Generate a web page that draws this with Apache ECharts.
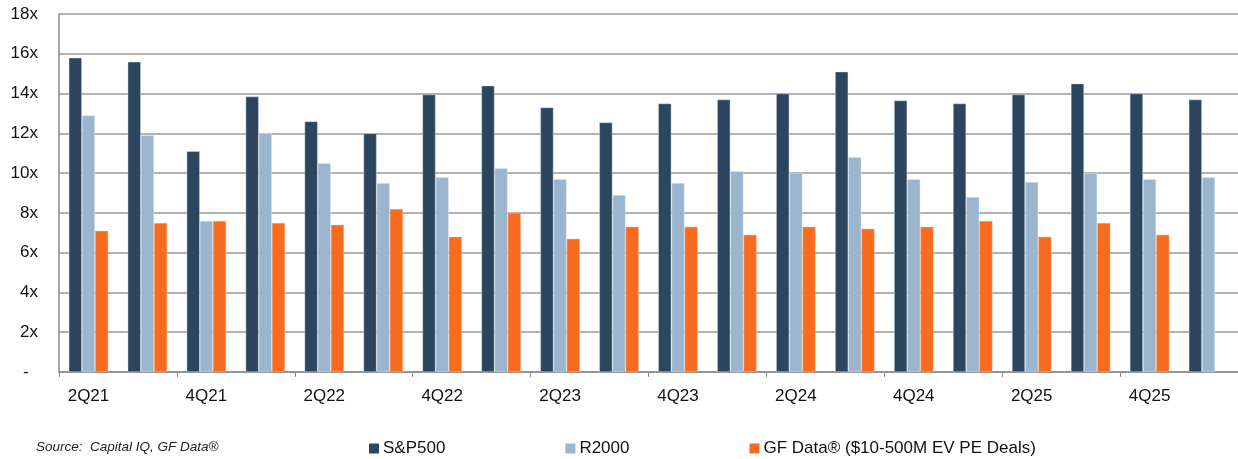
<!DOCTYPE html>
<html>
<head>
<meta charset="utf-8">
<script src="https://cdn.jsdelivr.net/npm/echarts@6/dist/echarts.min.js"></script>
<style>
  html, body { margin: 0; padding: 0; background: #fff; }
  #main { width: 1238px; height: 459px; }
</style>
</head>
<body>
<div id="main"></div>
<script>
// quarters, 2Q21 .. 1Q26
var quarters = ["2Q21","3Q21","4Q21","1Q22","2Q22","3Q22","4Q22","1Q23","2Q23","3Q23",
                "4Q23","1Q24","2Q24","3Q24","4Q24","1Q25","2Q25","3Q25","4Q25","1Q26"];
var sp500 = [15.8,15.6,11.1,13.85,12.6,12.0,13.95,14.4,13.3,12.55,13.5,13.7,14.0,15.1,13.65,13.5,13.95,14.5,14.0,13.7];
var r2000 = [12.9,11.9,7.6,12.0,10.5,9.5,9.8,10.25,9.7,8.9,9.5,10.1,10.0,10.8,9.7,8.8,9.55,10.0,9.7,9.8];
var gfData = [7.1,7.5,7.6,7.5,7.4,8.2,6.8,8.0,6.7,7.3,7.3,6.9,7.3,7.2,7.3,7.6,6.8,7.5,6.9,null];
var yTicks = { min: 0, max: 18, step: 2 };

var font = "Arial, 'Liberation Sans', sans-serif";
var myChart = echarts.init(document.getElementById("main"));

var option = {
  animation: false,
  textStyle: { fontFamily: font },
  color: ["#2d4660", "#9cb5cf", "#f96b1e"],
  grid: { left: 59, top: 14, width: 1185, height: 358, containLabel: false },
  legend: {
    left: 369,
    top: 440,
    padding: 0,
    itemWidth: 10,
    itemHeight: 10,
    itemGap: 120,
    icon: "rect",
    itemStyle: { borderWidth: 0 },
    textStyle: { fontSize: 17, color: "#111", fontFamily: font, padding: [0, 0, 0, -1] },
    data: ["S&P500", "R2000", "GF Data® ($10-500M EV PE Deals)"]
  },
  graphic: [{
    type: "text",
    left: 36,
    top: 440,
    style: {
      text: "Source:  Capital IQ, GF Data®",
      fontStyle: "italic",
      fontSize: 13.5,
      fontFamily: font,
      fill: "#222"
    }
  }],
  xAxis: {
    type: "category",
    data: quarters,
    axisLine: { lineStyle: { color: "#8a8a8a", width: 1.5 } },
    axisTick: { show: true, length: 5, lineStyle: { color: "#8a8a8a" } },
    axisLabel: { interval: 1, fontSize: 17, color: "#111", margin: 16 },
    splitLine: { show: false }
  },
  yAxis: {
    type: "value",
    min: yTicks.min,
    max: yTicks.max,
    interval: yTicks.step,
    axisLine: { show: true, lineStyle: { color: "#8a8a8a", width: 1.5 } },
    axisTick: { show: false },
    axisLabel: {
      fontSize: 17,
      color: "#111",
      margin: 21,
      formatter: function (v) { return v === 0 ? "-  " : v + "x"; }
    },
    splitLine: { show: true, lineStyle: { color: "#9a9a9a", width: 1.5 } }
  },
  series: [
    {
      name: "S&P500",
      type: "bar",
      barGap: "0%",
      barCategoryGap: "33%",
      itemStyle: { borderColor: "rgba(220,228,240,0.7)", borderWidth: 0.6 },
      data: sp500
    },
    {
      name: "R2000",
      type: "bar",
      itemStyle: { borderColor: "rgba(230,238,248,0.7)", borderWidth: 0.6 },
      data: r2000
    },
    {
      name: "GF Data® ($10-500M EV PE Deals)",
      type: "bar",
      itemStyle: { borderColor: "rgba(255,190,150,0.7)", borderWidth: 0.6 },
      data: gfData
    }
  ]
};
myChart.setOption(option);
</script>
</body>
</html>
